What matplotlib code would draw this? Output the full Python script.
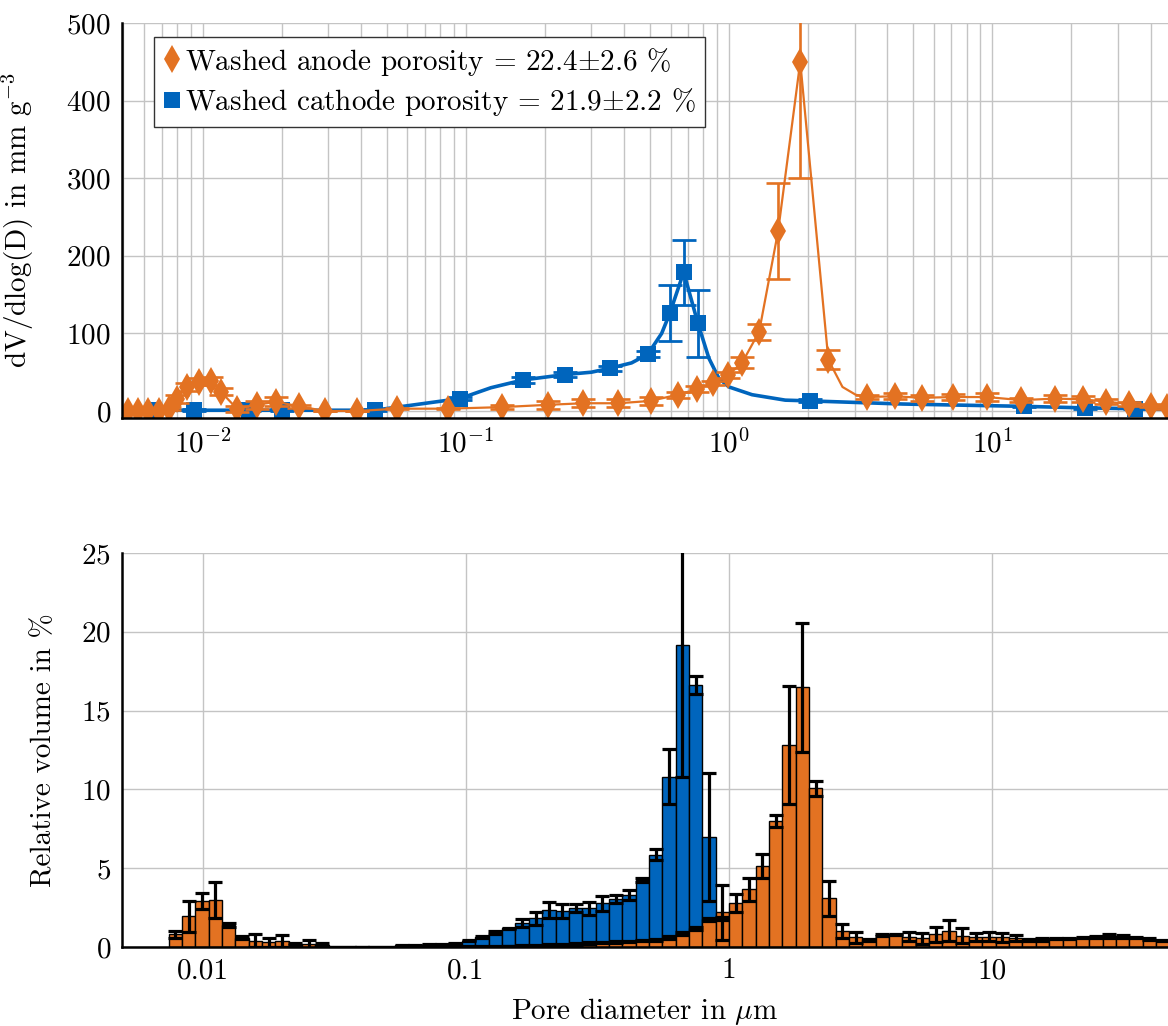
import numpy as np
import matplotlib
matplotlib.use("Agg")
import matplotlib.pyplot as plt
from matplotlib.lines import Line2D
from matplotlib.ticker import NullFormatter, LogLocator

plt.rcParams['font.family'] = ['cmr10', 'DejaVu Serif']
plt.rcParams['mathtext.fontset'] = 'cm'
plt.rcParams['axes.formatter.use_mathtext'] = True
plt.rcParams['axes.unicode_minus'] = False

ORANGE = '#E37222'
BLUE = '#0065BD'

# --- top: dV/dlog(D) curves (markers = measured points) ---
anode_d = [0.00522, 0.0057, 0.00622, 0.0068, 0.00742, 0.00796, 0.00869, 0.00966, 0.01074, 0.01172,
           0.01349, 0.01607, 0.0190, 0.02325, 0.02921, 0.03873, 0.05456,
           0.0854, 0.1372, 0.2056, 0.2797, 0.3802, 0.5036, 0.6386, 0.7551, 0.8689, 0.991,
           1.121, 1.302, 1.538, 1.866, 2.386, 3.333,
           4.267, 5.41, 7.10, 9.57, 12.9, 17.4, 22.2, 27.2, 33.0, 40.1, 46.1]
anode_dv = [0, 0, 0, 0, 3, 15, 31, 38, 39, 25, 3, 8, 12, 6, 0, 0, 3,
            3, 5, 8, 10, 10, 13, 21, 28, 36, 46,
            62, 102, 232, 450, 66, 18,
            19, 17, 18, 18, 14, 16, 15, 12, 9, 7, 5]
anode_err = [0, 0, 0, 0, 2, 5, 5, 5, 5, 5, 4, 5, 6, 2, 0, 0, 1,
             1, 3, 5, 5, 5, 5, 4, 4, 3, 4,
             7, 10, 62, 150, 12, 2,
             4, 4, 4, 5, 3, 4, 4, 3, 2, 2, 2]
# extra points
anode_line_d = [2.70, 3.03]
anode_line_dv = [31, 21]

cathode_d = [0.0065, 0.00924, 0.0150, 0.0200, 0.0450, 0.0949, 0.165, 0.239, 0.352, 0.491,
             0.596, 0.673, 0.762, 2.04, 13.2, 22.6, 34.8]
cathode_dv = [1, 1, 1, 1, 1, 16, 40, 47, 55, 73, 126, 179, 113, 13, 6, 4, 3]
cathode_err = [1, 1, 1, 1, 1, 2, 4, 3, 3, 4, 36, 42, 43, 2, 1, 1, 1]
cathode_line_d = [0.1246, 0.300, 0.4264, 0.555, 0.839, 0.916, 1.0, 1.224, 1.636, 4.575, 48.2]
cathode_line_dv = [30, 50, 62, 100, 68, 42, 31, 21, 14, 9, 2]

# --- bottom: relative volume histogram, log-uniform bins ---
bin_index = np.arange(-42, 33)
bin_step = 0.0507  # decades per bin

anode_rel = [0.8, 1.95, 2.9, 3.0, 1.4, 0.6, 0.4, 0.3, 0.38, 0.2, 0.2, 0.15,
             0, 0, 0, 0, 0, 0, 0, 0, 0, 0,
             0.02, 0.03, 0.05, 0.06, 0.08, 0.1, 0.12, 0.15, 0.2, 0.25,
             0.28, 0.3, 0.35, 0.4, 0.45, 0.6, 0.85, 1.2, 1.75, 2.2,
             2.8, 3.67, 5.15, 8.0, 12.8, 16.47, 10.06, 3.09, 1.04, 0.61,
             0.44, 0.76, 0.8, 0.65, 0.55, 0.8, 1.04, 0.72, 0.65, 0.65,
             0.61, 0.55, 0.44, 0.49, 0.55, 0.55, 0.59, 0.65, 0.7, 0.65,
             0.59, 0.49, 0.4]
anode_rel_err = [0.2, 1.0, 0.5, 1.15, 0.1, 0.1, 0.4, 0.3, 0.4, 0.05, 0.25, 0.1,
                 0, 0, 0, 0, 0, 0, 0, 0, 0, 0,
                 0.02, 0.02, 0.02, 0.02, 0.03, 0.03, 0.05, 0.05, 0.05, 0.05,
                 0.05, 0.05, 0.05, 0.05, 0.05, 0.08, 0.1, 0.1, 0.1, 1.75,
                 0.56, 0.73, 0.75, 0.37, 3.74, 4.1, 0.5, 1.1, 0.45, 0.33,
                 0.05, 0.05, 0.05, 0.3, 0.35, 0.5, 0.65, 0.47, 0.25, 0.3,
                 0.3, 0.2, 0.05, 0.1, 0.05, 0.05, 0.05, 0.05, 0.1, 0.1,
                 0.05, 0.05, 0.05]
cathode_rel = [0, 0, 0, 0, 0, 0, 0, 0, 0, 0, 0, 0,
               0, 0, 0, 0, 0, 0.1, 0.12, 0.15, 0.18, 0.25,
               0.4, 0.65, 0.9, 1.18, 1.54, 1.82, 2.35, 2.28, 2.5, 2.45,
               2.77, 3.02, 3.3, 4.25, 5.84, 10.8, 19.15, 16.6, 7.0, 1.8,
               1.18, 0.65, 0.5, 0.34, 0.23, 0.19, 0.17, 0.15, 0.12, 0.12,
               0.11, 0.11, 0.1, 0.1, 0.1, 0.09, 0.09, 0.09, 0.08, 0.08,
               0.08, 0.08, 0.07, 0.07, 0.07, 0.07, 0.06, 0.06, 0.06, 0.06,
               0.05, 0.05, 0.05]
cathode_rel_err = [0, 0, 0, 0, 0, 0, 0, 0, 0, 0, 0, 0,
                   0, 0, 0, 0, 0, 0.03, 0.03, 0.03, 0.03, 0.03,
                   0.03, 0.05, 0.1, 0.05, 0.25, 0.4, 0.48, 0.45, 0.25, 0.4,
                   0.47, 0.25, 0.3, 0.1, 0.35, 1.75, 8.35, 0.57, 4.06, 0.1,
                   0.02, 0.02, 0.02, 0.02, 0.02, 0.02, 0.02, 0.02, 0.02, 0.02,
                   0.02, 0.02, 0.02, 0.02, 0.02, 0.02, 0.02, 0.02, 0.02, 0.02,
                   0.02, 0.02, 0.02, 0.02, 0.02, 0.02, 0.02, 0.02, 0.02, 0.02,
                   0.02, 0.02, 0.02]

labels = ['Washed anode porosity = 22.4$\\pm$2.6 %',
          'Washed cathode porosity = 21.9$\\pm$2.2 %']

FS = 21
XLIM = (0.00494, 46.6)

fig = plt.figure(figsize=(11.68, 10.26), dpi=100)
ax1 = fig.add_axes([0.1045, 0.5926, 0.8955, 0.385])
ax2 = fig.add_axes([0.1045, 0.077, 0.8955, 0.384])

# top plot
cl = sorted(zip(cathode_d + cathode_line_d, cathode_dv + cathode_line_dv))
ax1.plot([p[0] for p in cl], [p[1] for p in cl], color=BLUE, lw=2.6, zorder=3)
ax1.errorbar(cathode_d, cathode_dv, yerr=cathode_err, fmt='none', ecolor=BLUE,
             elinewidth=2.0, capsize=8.5, capthick=2.0, zorder=4)
ax1.plot(cathode_d, cathode_dv, ls='none', marker='s', color=BLUE, ms=12, mew=0, zorder=4)
al = sorted(zip(anode_d + anode_line_d, anode_dv + anode_line_dv))
ax1.plot([p[0] for p in al], [p[1] for p in al], color=ORANGE, lw=1.6, zorder=5)
ax1.errorbar(anode_d, anode_dv, yerr=anode_err, fmt='none', ecolor=ORANGE,
             elinewidth=1.9, capsize=8.5, capthick=1.9, zorder=6)
ax1.plot(anode_d, anode_dv, ls='none', marker='d', color=ORANGE, ms=14, mew=0, zorder=6)

ax1.set_xscale('log')
ax1.set_xlim(*XLIM)
ax1.set_ylim(-9, 500)
ax1.set_yticks([0, 100, 200, 300, 400, 500])
ax1.xaxis.set_minor_locator(LogLocator(base=10, subs=np.arange(2, 10)))
ax1.xaxis.set_minor_formatter(NullFormatter())
ax1.grid(True, which='both', axis='x', color='#c4c4c4', lw=1.0)
ax1.grid(True, which='major', axis='y', color='#c4c4c4', lw=1.0)
ax1.set_ylabel('dV/dlog(D) in mm g$^{-3}$', fontsize=FS)
ax1.yaxis.set_label_coords(-0.082, 0.5)

handles = [Line2D([], [], ls='none', marker='d', color=ORANGE, ms=14, mew=0),
           Line2D([], [], ls='none', marker='s', color=BLUE, ms=12, mew=0)]
leg = ax1.legend(handles, labels, loc='upper left', bbox_to_anchor=(0.031, 0.965),
                 borderaxespad=0, fontsize=FS, fancybox=False, framealpha=1,
                 edgecolor='#333333', handlelength=0.6, handletextpad=0.15,
                 borderpad=0.3, labelspacing=0.3)
leg.get_frame().set_linewidth(1.0)

# bottom plot
left = 10 ** (bin_index * bin_step)
right = 10 ** ((bin_index + 1) * bin_step)
centers = np.sqrt(left * right)
ax2.bar(left, cathode_rel, width=right - left, align='edge', color=BLUE,
        edgecolor='black', lw=1.0, zorder=2)
ax2.bar(left, anode_rel, width=right - left, align='edge', color=ORANGE,
        edgecolor='black', lw=1.0, zorder=3)
c_val = np.array(cathode_rel)
c_err = np.array(cathode_rel_err)
show = c_err > 0.02
ax2.errorbar(centers[show], c_val[show], yerr=c_err[show], fmt='none', ecolor='black',
             elinewidth=2.3, capsize=5, capthick=2.3, zorder=4)
ax2.errorbar(centers, anode_rel, yerr=anode_rel_err, fmt='none', ecolor='black',
             elinewidth=2.3, capsize=5, capthick=2.3, zorder=5)

ax2.set_xscale('log')
ax2.set_xlim(*XLIM)
ax2.set_ylim(0, 25)
ax2.set_yticks([0, 5, 10, 15, 20, 25])
ax2.set_xticks([0.01, 0.1, 1, 10], labels=['0.01', '0.1', '1', '10'])
ax2.xaxis.set_minor_formatter(NullFormatter())
ax2.grid(True, which='major', color='#c4c4c4', lw=1.0)
ax2.set_ylabel('Relative volume in %', fontsize=FS)
ax2.yaxis.set_label_coords(-0.062, 0.5)
ax2.set_xlabel('Pore diameter in $\\mu$m', fontsize=FS)
ax2.xaxis.set_label_coords(0.5, -0.125)

for ax in (ax1, ax2):
    ax.set_axisbelow(True)
    for s in ('top', 'right'):
        ax.spines[s].set_visible(False)
    for s in ('left', 'bottom'):
        ax.spines[s].set_linewidth(1.8)
        ax.spines[s].set_zorder(10)
    ax.tick_params(which='both', length=0, labelsize=FS, pad=8)

fig.savefig('out.png', dpi=100)
